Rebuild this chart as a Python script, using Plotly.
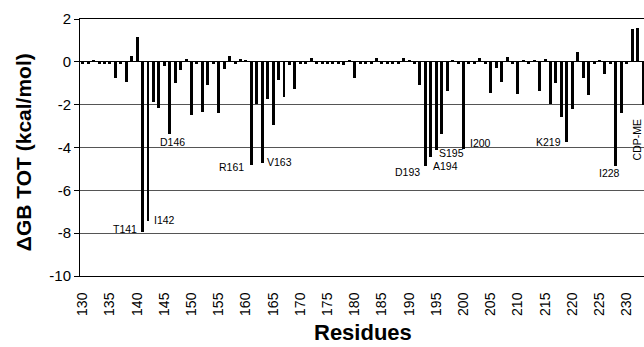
import plotly.graph_objects as go

# ---- data ----
residues = list(range(130, 234))
dgb_tot = [
    -0.08, -0.10, 0.05, -0.10, -0.12, -0.10, -0.75, -0.10, -0.92, 0.25,   # 130-139
    1.15, -7.93, -7.42, -1.86, -2.17, -0.20, -3.38, -0.98, -0.37, 0.13,    # 140-149
    -2.47, -0.12, -2.33, -1.08, -0.10, -2.40, -0.33, 0.28, -0.10, 0.12,   # 150-159
    0.05, -4.82, -1.95, -4.72, -1.72, -2.95, -0.85, -1.66, -0.15, -1.28,  # 160-169
    -0.10, -0.12, 0.17, -0.10, -0.12, -0.08, -0.12, -0.10, -0.15, 0.10,   # 170-179
    -0.77, -0.10, -0.12, -0.08, 0.17, -0.10, -0.12, -0.10, -0.08, 0.18,   # 180-189
    0.10, -0.10, -1.10, -4.87, -4.43, -4.10, -3.37, -1.36, 0.10, -0.10,   # 190-199
    -4.05, -0.12, -0.10, 0.17, -0.10, -1.45, -0.30, -0.95, 0.24, -0.10,   # 200-209
    -1.52, 0.07, -0.10, 0.10, -1.37, 0.12, -1.98, -1.00, -2.56, -3.73,    # 210-219
    -2.22, 0.44, -0.77, -1.55, -0.10, 0.10, -0.55, -0.10, -4.85, -2.40,   # 220-229
    -0.10, 1.52, 1.56, -2.00,                                             # 230-233
]
x_ticks = list(range(130, 231, 5))
y_ticks = [2, 0, -2, -4, -6, -8, -10]

# labelled residues: (residue, text)
labels = [
    (141, "T141"), (142, "I142"), (146, "D146"), (161, "R161"), (163, "V163"),
    (193, "D193"), (194, "A194"), (195, "S195"), (200, "I200"), (219, "K219"),
    (228, "I228"),
]
ligand_label = (232, "CDP-ME")

# label placement styles (xanchor, yanchor, xshift, yshift)
label_style = {
    "T141": ("right", "middle", -4, 3),
    "I142": ("left", "middle", 4, 1),
    "D146": ("center", "middle", 3, -8),
    "R161": ("right", "middle", -5, -2),
    "V163": ("left", "middle", 3, 1),
    "D193": ("right", "middle", -3, -6),
    "A194": ("left", "middle", 0, -9),
    "S195": ("left", "middle", 1, -3),
    "I200": ("left", "middle", 4, 6),
    "K219": ("right", "middle", -4, 0),
    "I228": ("center", "middle", -6, -7),
}

FONT = "Liberation Sans, Arial, sans-serif"

fig = go.Figure()
fig.add_trace(go.Bar(
    x=residues, y=dgb_tot, width=0.55,
    marker=dict(color="black", line=dict(width=0)),
    showlegend=False,
))

val = dict(zip(residues, dgb_tot))
annotations = []
for r, t in labels:
    xa, ya, xs, ys = label_style[t]
    annotations.append(dict(
        x=r, y=val[r], xref="x", yref="y", text=t, showarrow=False,
        xanchor=xa, yanchor=ya, xshift=xs, yshift=ys,
        font=dict(family=FONT, size=10.5, color="black"),
    ))
annotations.append(dict(
    x=ligand_label[0], y=0, xref="x", yref="y", text=ligand_label[1],
    showarrow=False, textangle=-90, xanchor="center", yanchor="middle",
    xshift=-1, yshift=-78, font=dict(family=FONT, size=10.5, color="black"),
))
# axis titles
annotations.append(dict(
    x=-0.101, y=0.482, xref="paper", yref="paper", text="<b>ΔGB TOT (kcal/mol)</b>",
    showarrow=False, textangle=-90, xanchor="center", yanchor="middle",
    font=dict(family=FONT, size=21, color="black"),
))
annotations.append(dict(
    x=0.502, y=-0.275, xref="paper", yref="paper", text="<b>Residues</b>",
    showarrow=False, xanchor="center", yanchor="bottom",
    font=dict(family=FONT, size=22, color="black"),
))

fig.update_layout(
    width=644, height=347,
    margin=dict(l=80, r=0, t=19, b=71, pad=0),
    paper_bgcolor="white", plot_bgcolor="white",
    font=dict(family=FONT, color="black"),
    annotations=annotations,
    bargap=0,
)
fig.update_xaxes(
    range=[129.5, 233.18], tickmode="array", tickvals=x_ticks,
    ticktext=[str(v) for v in x_ticks], tickangle=-90,
    tickfont=dict(family=FONT, size=14, color="black"),
    showgrid=False, zeroline=False,
    showline=True, linecolor="black", linewidth=1, mirror=True,
    ticks="outside", ticklen=10, tickcolor="rgba(0,0,0,0)",
)
fig.update_yaxes(
    range=[-10, 2], tickmode="array", tickvals=y_ticks,
    ticktext=[str(v) for v in y_ticks],
    tickfont=dict(family=FONT, size=15, color="black"),
    showgrid=True, gridcolor="#555555", gridwidth=1,
    zeroline=True, zerolinecolor="black", zerolinewidth=1,
    showline=True, linecolor="black", linewidth=1,
    ticks="outside", ticklen=5, tickcolor="black",
)

fig.write_html("out.html")
